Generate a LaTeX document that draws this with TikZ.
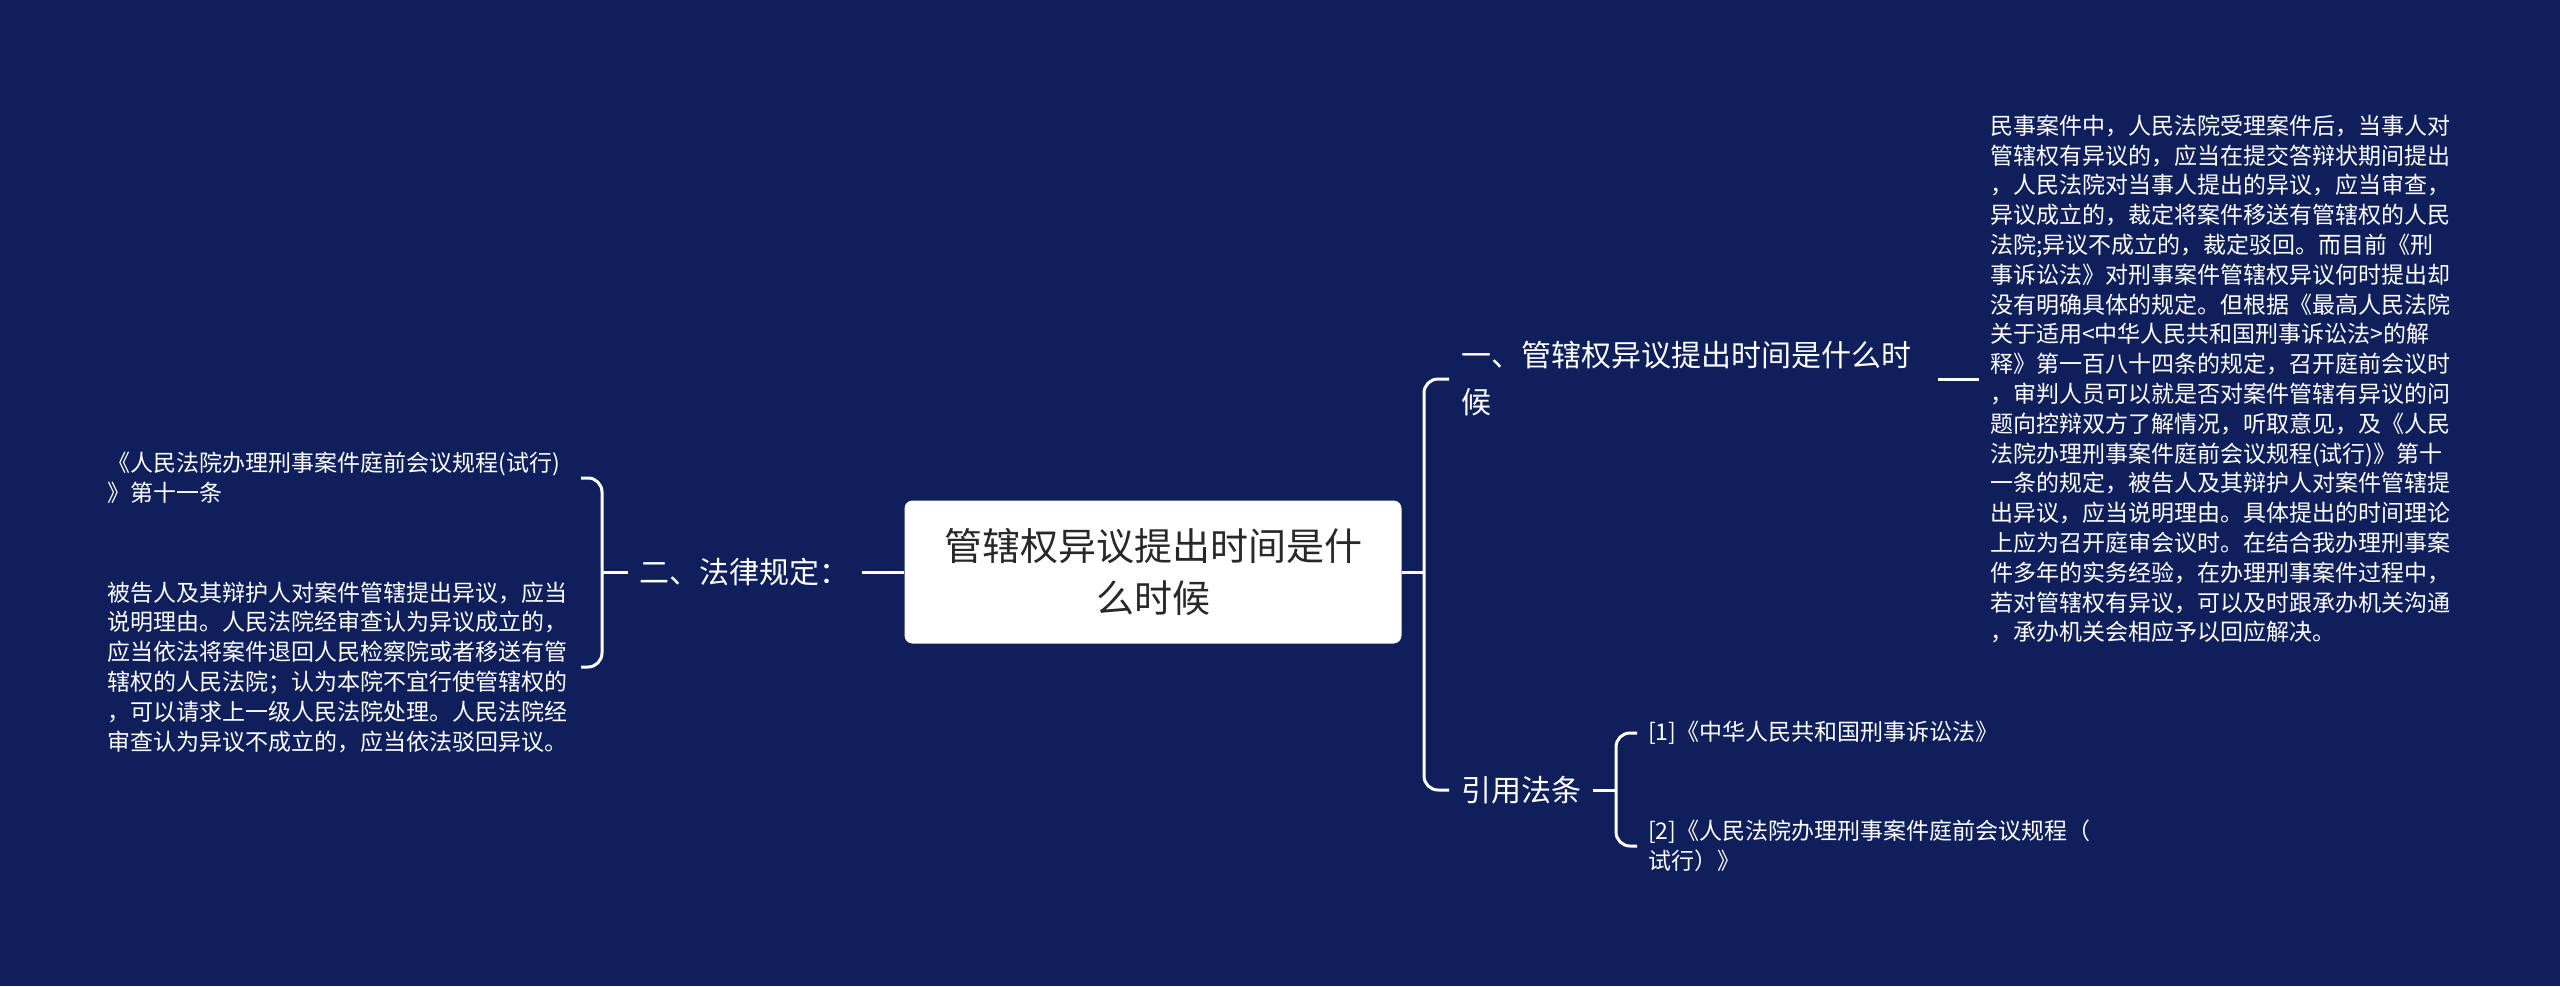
\documentclass[tikz,border=0pt]{standalone}
\usepackage{fontspec}
\setmainfont{Noto Sans CJK SC}
\definecolor{bg}{RGB}{14,31,91}
\definecolor{roottext}{RGB}{40,40,40}
\begin{document}
\begin{tikzpicture}[x=1pt,y=-1pt,
  conn/.style={draw=white, line width=3pt},
  rootbox/.style={fill=white, rounded corners=8pt, minimum width=497pt, minimum height=143pt, align=center, text=roottext, font=\fontsize{38}{52}\selectfont, inner sep=0pt},
  branch/.style={text=white, align=left, font=\fontsize{30}{47}\selectfont, inner xsep=12pt, inner ysep=0pt},
  leaf/.style={text=white, align=left, font=\fontsize{23}{29.8}\selectfont, inner xsep=11pt, inner ysep=0pt},
]
\fill[bg] (0,0) rectangle (2560,986);
\useasboundingbox (0,0) rectangle (2560,986);

\node[rootbox] (root) at (1153,572) {管辖权异议提出时间是什\\么时候};

\node[branch, anchor=west, text width=465pt] (b1) at (1449,379) {一、管辖权异议提出时间是什么时\\候};
\node[branch, anchor=west] (b2) at (1449,790) {引用法条};
\node[branch, anchor=east] (lb) at (862,572) {二、法律规定：};

\node[leaf, anchor=west] (r1) at (1979,379) {民事案件中，人民法院受理案件后，当事人对\\
管辖权有异议的，应当在提交答辩状期间提出\\
，人民法院对当事人提出的异议，应当审查，\\
异议成立的，裁定将案件移送有管辖权的人民\\
法院;异议不成立的，裁定驳回。而目前《刑\\
事诉讼法》对刑事案件管辖权异议何时提出却\\
没有明确具体的规定。但根据《最高人民法院\\
关于适用<中华人民共和国刑事诉讼法>的解\\
释》第一百八十四条的规定，召开庭前会议时\\
，审判人员可以就是否对案件管辖有异议的问\\
题向控辩双方了解情况，听取意见，及《人民\\
法院办理刑事案件庭前会议规程(试行)》第十\\
一条的规定，被告人及其辩护人对案件管辖提\\
出异议，应当说明理由。具体提出的时间理论\\
上应为召开庭审会议时。在结合我办理刑事案\\
件多年的实务经验，在办理刑事案件过程中，\\
若对管辖权有异议，可以及时跟承办机关沟通\\
，承办机关会相应予以回应解决。};

\node[leaf, anchor=west] (c1) at (1637,733) {[1]《中华人民共和国刑事诉讼法》};
\node[leaf, anchor=west] (c2) at (1637,846) {[2]《人民法院办理刑事案件庭前会议规程（\\试行）》};

\node[leaf, anchor=east, text width=462pt] (L1) at (581,478) {《人民法院办理刑事案件庭前会议规程(试行)\\》第十一条};
\node[leaf, anchor=east, text width=462pt] (L2) at (581,667) {被告人及其辩护人对案件管辖提出异议，应当\\
说明理由。人民法院经审查认为异议成立的，\\
应当依法将案件退回人民检察院或者移送有管\\
辖权的人民法院；认为本院不宜行使管辖权的\\
，可以请求上一级人民法院处理。人民法院经\\
审查认为异议不成立的，应当依法驳回异议。};

\coordinate (rj) at (1424,572);
\draw[conn] (root.east) -- (rj);
\draw[conn, rounded corners=14pt] (b1.west) -| (rj) |- (b2.west);
\draw[conn] (b1.east) -- (r1.west);
\coordinate (cj) at (1616,790);
\draw[conn] (b2.east) -- (cj);
\draw[conn, rounded corners=14pt] (c1.west) -| (cj) |- (c2.west);
\coordinate (lj) at (602,572);
\draw[conn] (root.west) -- (lb.east);
\draw[conn] (lb.west) -- (lj);
\draw[conn, rounded corners=14pt] (L1.east) -| (lj) |- (L2.east);
\end{tikzpicture}
\end{document}
